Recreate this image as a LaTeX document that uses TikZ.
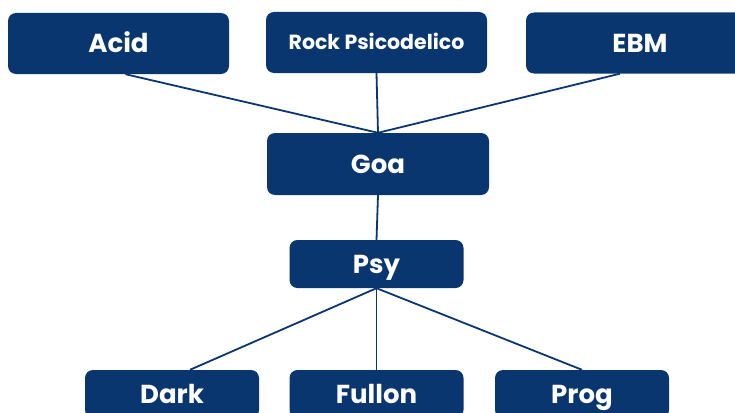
\documentclass[tikz,border=0pt]{standalone}
\usepackage{fontspec}
\setmainfont{Poppins}
\usepackage{xcolor}
\usetikzlibrary{positioning}
\definecolor{navy}{HTML}{0A3670}

\begin{document}
\begin{tikzpicture}[x=1pt,y=1pt]
            \tikzset{genre/.style={fill=navy,text=white,rounded corners=8pt,inner sep=0pt,
                                   text height=18.5pt,text depth=0pt,
                                   font=\bfseries\fontsize{26}{30}\selectfont},
                     big/.style={genre,minimum width=221pt,minimum height=61pt},
                     small/.style={genre,minimum width=174pt,minimum height=48pt},
                     link/.style={draw=navy,line width=1.8pt}}
            \useasboundingbox (0,0) rectangle (735,-412);
            % top row
            \node [big] (acid) at (118.5,-43.5) {Acid};
            \node [big,text height=14.5pt,font=\bfseries\fontsize{20.5}{24}\selectfont] (rock) at (376.5,-42.5) {Rock Psicodelico};
            \node [big,minimum width=228pt] (ebm) at (640,-43) {EBM};
            % middle
            \node [big,minimum width=222pt,minimum height=62pt] (goa) at (378,-164) {Goa};
            \node [small] (psy) at (376.5,-264) {Psy};
            % bottom row
            \node [small] (dark) at (172,-394) {Dark};
            \node [small] (fullon) at (376.5,-394) {Fullon};
            \node [small] (prog) at (582,-394) {Prog};
            % links
            \draw [link] ([xshift=7pt]acid.south) -- (goa.north);
            \draw [link] (rock.south) -- (goa.north);
            \draw [link] ([xshift=-20pt]ebm.south) -- (goa.north);
            \draw [link] (goa.south) -- (psy.north);
            \draw [link] (psy.south) -- ([xshift=18pt]dark.north);
            \draw [link] (psy.south) -- (fullon.north);
            \draw [link] (psy.south) -- (prog.north);
\end{tikzpicture}
\end{document}
